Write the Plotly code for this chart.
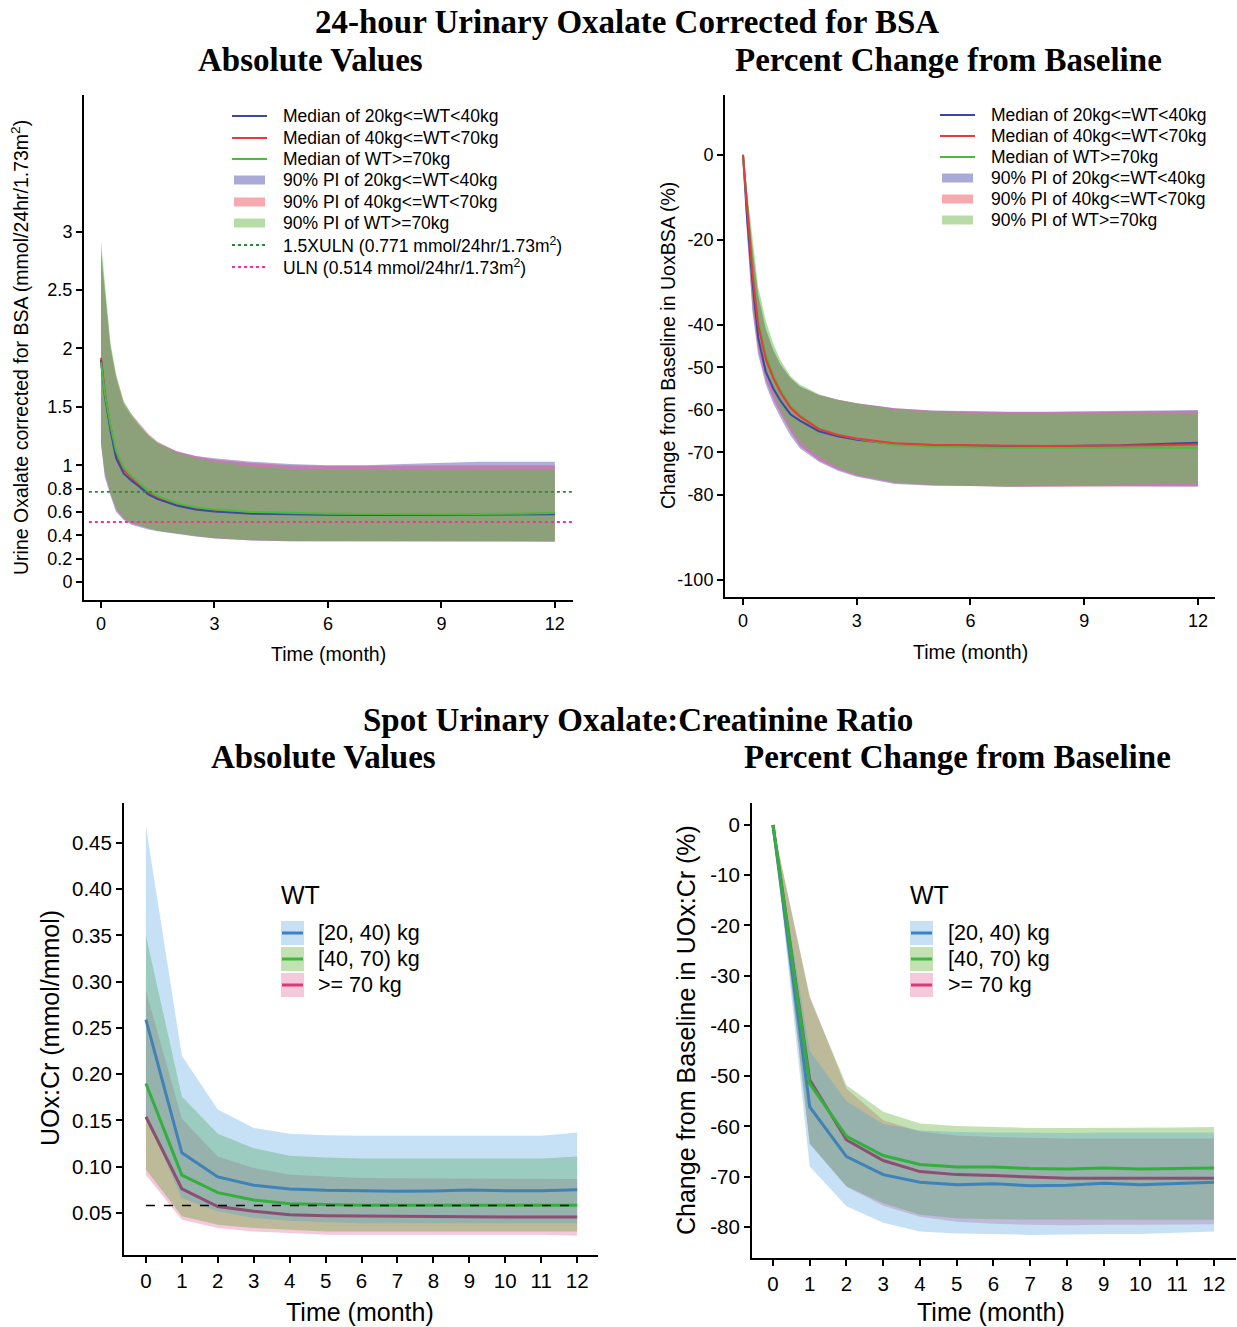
import plotly.graph_objects as go

W, H = 1237, 1327

# ---------------- DATA ----------------
# Top panels (24-hour UOx corrected for BSA)
t_top = [0, 0.1, 0.25, 0.4, 0.6, 0.8, 1, 1.25, 1.5, 2, 2.5, 3, 4, 5, 6, 7, 8, 9, 10, 11, 12]

abs_med_2040 = [1.9, 1.6, 1.3, 1.06, 0.93, 0.87, 0.82, 0.75, 0.71, 0.655, 0.62, 0.603, 0.585, 0.578, 0.575, 0.574, 0.574, 0.575, 0.576, 0.578, 0.58]
abs_med_4070 = [1.92, 1.63, 1.33, 1.1, 0.96, 0.89, 0.84, 0.77, 0.72, 0.665, 0.628, 0.61, 0.59, 0.582, 0.578, 0.577, 0.577, 0.578, 0.58, 0.583, 0.585]
abs_med_70 = [1.88, 1.62, 1.34, 1.12, 0.98, 0.91, 0.85, 0.78, 0.735, 0.675, 0.64, 0.62, 0.6, 0.59, 0.585, 0.582, 0.58, 0.58, 0.582, 0.585, 0.59]
abs_hi_2040 = [2.85, 2.5, 2.0, 1.75, 1.52, 1.42, 1.34, 1.25, 1.19, 1.12, 1.08, 1.06, 1.03, 1.01, 1.0, 1.0, 1.01, 1.02, 1.03, 1.03, 1.03]
abs_lo_2040 = [1.18, 0.9, 0.74, 0.6, 0.53, 0.49, 0.47, 0.45, 0.435, 0.41, 0.39, 0.372, 0.355, 0.35, 0.35, 0.348, 0.347, 0.347, 0.346, 0.346, 0.346]
abs_hi_4070 = [2.8, 2.5, 2.02, 1.76, 1.54, 1.44, 1.36, 1.27, 1.2, 1.12, 1.08, 1.05, 1.02, 1.0, 0.995, 0.995, 1.0, 1.0, 1.0, 1.0, 1.0]
abs_lo_4070 = [1.2, 0.93, 0.76, 0.62, 0.54, 0.5, 0.48, 0.46, 0.44, 0.415, 0.395, 0.375, 0.355, 0.35, 0.35, 0.347, 0.345, 0.345, 0.345, 0.345, 0.345]
abs_hi_70 = [2.92, 2.55, 2.05, 1.78, 1.55, 1.44, 1.35, 1.26, 1.19, 1.11, 1.06, 1.03, 0.99, 0.97, 0.96, 0.96, 0.96, 0.96, 0.96, 0.96, 0.96]
abs_lo_70 = [1.2, 0.94, 0.77, 0.63, 0.55, 0.51, 0.485, 0.46, 0.44, 0.415, 0.395, 0.378, 0.36, 0.352, 0.35, 0.35, 0.35, 0.35, 0.35, 0.35, 0.35]
uln_15x = 0.771
uln = 0.514

pct_med_2040 = [0, -14, -30, -43, -51, -55, -58, -61, -62.5, -65, -66.2, -67, -68, -68.3, -68.4, -68.5, -68.6, -68.4, -68.3, -68, -67.7]
pct_med_4070 = [0, -12, -28, -40, -48, -52.5, -56, -59.5, -61.5, -64.5, -65.9, -66.7, -67.8, -68.2, -68.3, -68.5, -68.5, -68.4, -68.4, -68.3, -68.1]
pct_med_70 = [0, -11, -27, -39, -47, -52, -55.5, -59, -61.3, -64.3, -65.8, -66.8, -68.2, -68.6, -68.8, -68.9, -68.9, -68.8, -68.8, -68.9, -68.9]
pct_hi_2040 = [0, -9, -22, -33, -41, -46, -49.5, -52.5, -54.5, -56.5, -57.6, -58.4, -59.6, -60.1, -60.3, -60.4, -60.4, -60.3, -60.2, -60.1, -60]
pct_lo_2040 = [0, -18, -37, -47, -54, -58.5, -62, -66, -69, -72.2, -74.3, -75.7, -77.4, -77.8, -77.9, -78, -78, -77.9, -77.9, -77.9, -78]
pct_hi_4070 = [0, -9, -22, -33, -41, -46, -49.5, -52.5, -54.5, -56.5, -57.6, -58.4, -59.6, -60.2, -60.4, -60.5, -60.5, -60.4, -60.3, -60.2, -60.2]
pct_lo_4070 = [0, -17, -36, -46, -53, -57.5, -61, -65, -68.5, -71.8, -74, -75.5, -77.2, -77.7, -77.9, -78.1, -78.1, -78, -78, -78, -78]
pct_hi_70 = [0, -8, -20, -31, -39, -44.5, -48.5, -52, -54, -56.3, -57.6, -58.5, -59.9, -60.5, -60.7, -60.8, -60.8, -60.8, -60.8, -60.8, -60.8]
pct_lo_70 = [0, -16, -34, -44, -51, -56, -60, -64, -67.5, -71, -73.5, -75.2, -77, -77.6, -77.8, -78, -77.8, -77.6, -77.5, -77.4, -77.3]

# Bottom panels (spot UOx:Cr)
months = [0, 1, 2, 3, 4, 5, 6, 7, 8, 9, 10, 11, 12]

cr_med_2040 = [0.259, 0.115, 0.089, 0.080, 0.076, 0.0745, 0.074, 0.0734, 0.0737, 0.0748, 0.074, 0.074, 0.075]
cr_med_4070 = [0.190, 0.091, 0.072, 0.064, 0.060, 0.059, 0.0585, 0.0583, 0.0583, 0.0583, 0.0582, 0.0583, 0.0583]
cr_med_70 = [0.154, 0.076, 0.057, 0.052, 0.048, 0.047, 0.0468, 0.0464, 0.0458, 0.0457, 0.0457, 0.0456, 0.0457]
cr_hi_2040 = [0.468, 0.220, 0.162, 0.142, 0.1356, 0.134, 0.1335, 0.1335, 0.1335, 0.1335, 0.1335, 0.1335, 0.137]
cr_lo_2040 = [0.155, 0.066, 0.052, 0.0446, 0.0417, 0.040, 0.039, 0.039, 0.039, 0.039, 0.039, 0.039, 0.039]
cr_hi_4070 = [0.350, 0.176, 0.1356, 0.120, 0.112, 0.110, 0.109, 0.109, 0.109, 0.109, 0.109, 0.109, 0.111]
cr_lo_4070 = [0.097, 0.0464, 0.0374, 0.0338, 0.032, 0.030, 0.030, 0.030, 0.030, 0.030, 0.030, 0.030, 0.030]
cr_hi_70 = [0.29, 0.152, 0.111, 0.0986, 0.0914, 0.0896, 0.0878, 0.0875, 0.0872, 0.087, 0.087, 0.087, 0.0867]
cr_lo_70 = [0.091, 0.0428, 0.0338, 0.030, 0.0284, 0.0266, 0.0266, 0.0266, 0.0266, 0.0266, 0.0266, 0.0266, 0.0255]
cr_ref = 0.058

crp_med_2040 = [0, -56.1, -66, -69.6, -71.1, -71.6, -71.4, -71.8, -71.7, -71.3, -71.6, -71.4, -71.1]
crp_med_4070 = [0, -51.5, -62, -65.8, -67.6, -68.1, -68.1, -68.4, -68.5, -68.3, -68.5, -68.4, -68.3]
crp_med_70 = [0, -50.7, -62.7, -66.8, -69, -69.6, -69.8, -70.1, -70.3, -70.3, -70.3, -70.3, -70.3]
crp_hi_2040 = [0, -45, -55, -59.5, -60.8, -61.1, -61.2, -61.3, -61.3, -61.2, -61.2, -61.2, -61.2]
crp_lo_2040 = [0, -68, -75.9, -79.2, -80.9, -81.3, -81.4, -81.6, -81.5, -81.4, -81.4, -81.2, -80.9]
crp_hi_4070 = [0, -34.4, -51.8, -57.1, -59.4, -59.9, -60.1, -60.3, -60.3, -60.3, -60.3, -60.2, -60.1]
crp_lo_4070 = [0, -63.4, -71.9, -75.3, -77.6, -78.3, -78.5, -78.6, -78.6, -78.6, -78.6, -78.6, -78.6]
crp_hi_70 = [0, -34.0, -52.5, -58.8, -61, -61.8, -62.1, -62.3, -62.4, -62.4, -62.4, -62.4, -62.4]
crp_lo_70 = [0, -63.5, -72, -75.8, -78, -79, -79.4, -79.6, -79.7, -79.6, -79.6, -79.6, -79.5]

# tick labels
abs_yticks = [0, 0.2, 0.4, 0.6, 0.8, 1, 1.5, 2, 2.5, 3]
abs_yticktext = ["0", "0.2", "0.4", "0.6", "0.8", "1", "1.5", "2", "2.5", "3"]
pct_yticks = [0, -20, -40, -50, -60, -70, -80, -100]
pct_yticktext = ["0", "-20", "-40", "-50", "-60", "-70", "-80", "-100"]
top_xticks = [0, 3, 6, 9, 12]
cr_yticks = [0.05, 0.10, 0.15, 0.20, 0.25, 0.30, 0.35, 0.40, 0.45]
crp_yticks = [0, -10, -20, -30, -40, -50, -60, -70, -80]
crp_yticktext = ["0", "-10", "-20", "-30", "-40", "-50", "-60", "-70", "-80"]

top_legend_labels = ["Median of 20kg<=WT<40kg", "Median of 40kg<=WT<70kg", "Median of WT>=70kg",
                     "90% PI of 20kg<=WT<40kg", "90% PI of 40kg<=WT<70kg", "90% PI of WT>=70kg"]
ref_legend_labels = ["1.5XULN (0.771 mmol/24hr/1.73m<sup>2</sup>)", "ULN (0.514 mmol/24hr/1.73m<sup>2</sup>)"]
wt_labels = ["[20, 40) kg", "[40, 70) kg", ">= 70 kg"]

# ---------------- STYLE ----------------
SANS = "Liberation Sans"
SERIF = "Liberation Serif"
TOP_LINE = ["#3c48a4", "#e8393b", "#4cbb3c"]
TOP_FILL = ["rgba(95,95,175,0.5)", "rgba(215,75,145,0.5)", "rgba(85,195,64,0.5)"]
TOP_SWATCH = ["#aaaad8", "#f6aab0", "#b8dca8"]
# order of drawing: pink, green, blue
BOT_FILL = {"b": "rgba(65,155,222,0.3)", "g": "rgba(55,155,0,0.3)", "p": "rgba(222,72,138,0.3)"}
BOT_SWATCH = ["#c6e1f5", "#c3e1b3", "#f5c8dc"]
BOT_LINE = ["#3f82b8", "#33b03c", "#8b4f70"]
BOT_LEG_LINE = ["#3f7fc4", "#3db93d", "#d63a78"]


def px(x):
    return x / W


def py(y):
    return 1 - y / H


fig = go.Figure()


def band(xs, hi, lo, color, n):
    fig.add_trace(go.Scatter(x=list(xs) + list(xs)[::-1], y=list(hi) + list(lo)[::-1],
                             fill="toself", fillcolor=color, line=dict(width=0), mode="lines",
                             hoverinfo="skip", showlegend=False,
                             xaxis="x" + n, yaxis="y" + n))


def line(xs, ys, color, width, n, dash="solid"):
    fig.add_trace(go.Scatter(x=xs, y=ys, mode="lines", line=dict(color=color, width=width, dash=dash),
                             showlegend=False, xaxis="x" + n, yaxis="y" + n))


# top-left
band(t_top, abs_hi_2040, abs_lo_2040, TOP_FILL[0], "")
band(t_top, abs_hi_4070, abs_lo_4070, TOP_FILL[1], "")
band(t_top, abs_hi_70, abs_lo_70, TOP_FILL[2], "")
line(t_top, abs_med_4070, TOP_LINE[1], 2, "")
line(t_top, abs_med_2040, TOP_LINE[0], 2, "")
line(t_top, abs_med_70, TOP_LINE[2], 2, "")

# top-right
band(t_top, pct_hi_2040, pct_lo_2040, TOP_FILL[0], "2")
band(t_top, pct_hi_4070, pct_lo_4070, TOP_FILL[1], "2")
band(t_top, pct_hi_70, pct_lo_70, TOP_FILL[2], "2")
line(t_top, pct_med_2040, TOP_LINE[0], 2, "2")
line(t_top, pct_med_70, TOP_LINE[2], 2, "2")
line(t_top, pct_med_4070, TOP_LINE[1], 2, "2")

# bottom-left
band(months, cr_hi_70, cr_lo_70, BOT_FILL["p"], "3")
band(months, cr_hi_4070, cr_lo_4070, BOT_FILL["g"], "3")
band(months, cr_hi_2040, cr_lo_2040, BOT_FILL["b"], "3")
line(months, cr_med_2040, BOT_LINE[0], 3, "3")
line(months, cr_med_70, BOT_LINE[2], 3, "3")
line(months, cr_med_4070, BOT_LINE[1], 3, "3")
line([months[0], months[-1]], [cr_ref, cr_ref], "black", 1.5, "3", dash="dash")

# bottom-right
band(months, crp_hi_70, crp_lo_70, BOT_FILL["p"], "4")
band(months, crp_hi_4070, crp_lo_4070, BOT_FILL["g"], "4")
band(months, crp_hi_2040, crp_lo_2040, BOT_FILL["b"], "4")
line(months, crp_med_2040, BOT_LINE[0], 3, "4")
line(months, crp_med_70, BOT_LINE[2], 3, "4")
line(months, crp_med_4070, BOT_LINE[1], 3, "4")

shapes = []
annotations = []

# reference lines top-left
shapes.append(dict(type="line", xref="x domain", x0=0.01, x1=1, yref="y", y0=uln_15x, y1=uln_15x,
                   line=dict(color="#2a8a3a", width=1.8, dash="dot")))
shapes.append(dict(type="line", xref="x domain", x0=0.01, x1=1, yref="y", y0=uln, y1=uln,
                   line=dict(color="#ff2b9a", width=1.8, dash="dot")))


def axis_common(fs):
    return dict(showline=True, linecolor="black", linewidth=2, ticks="outside", ticklen=6,
                tickwidth=1.5, tickcolor="black", showgrid=False, zeroline=False,
                tickfont=dict(family=SANS, size=fs, color="black"))


layout = dict(
    width=W, height=H, margin=dict(l=0, r=0, t=0, b=0),
    paper_bgcolor="white", plot_bgcolor="white", showlegend=False,
    xaxis=dict(domain=[px(84), px(573)], range=[-0.449, 12.48], anchor="y",
               tickvals=top_xticks, **axis_common(18)),
    yaxis=dict(domain=[py(600), py(95)], range=[-0.154, 4.17], anchor="x",
               tickvals=abs_yticks, ticktext=abs_yticktext, **axis_common(18)),
    xaxis2=dict(domain=[px(725), px(1215)], range=[-0.475, 12.45], anchor="y2",
                tickvals=top_xticks, **axis_common(18)),
    yaxis2=dict(domain=[py(597), py(95)], range=[-104.0, 14.1], anchor="x2",
                tickvals=pct_yticks, ticktext=pct_yticktext, **axis_common(18)),
    xaxis3=dict(domain=[px(124), px(598)], range=[-0.61, 12.58], anchor="y3",
                tickvals=months, **axis_common(20.5)),
    yaxis3=dict(domain=[py(1255), py(803)], range=[0.0046, 0.4932], anchor="x3",
                tickvals=cr_yticks, tickformat=".2f", **axis_common(20.5)),
    xaxis4=dict(domain=[px(752), px(1236)], range=[-0.571, 12.6], anchor="y4",
                tickvals=months, **axis_common(20.5)),
    yaxis4=dict(domain=[py(1258), py(803)], range=[-86.2, 4.38], anchor="x4",
                tickvals=crp_yticks, ticktext=crp_yticktext, **axis_common(20.5)),
)


def text(x, y, s, size, family=SANS, anchor="center", angle=0, bold=False):
    if bold:
        s = "<b>" + s + "</b>"
    annotations.append(dict(xref="paper", yref="paper", x=px(x), y=py(y), text=s, showarrow=False,
                            xanchor=anchor, yanchor="middle", textangle=angle,
                            font=dict(family=family, size=size, color="black")))


# titles
text(627, 22, "24-hour Urinary Oxalate Corrected for BSA", 33, SERIF, bold=True)
text(310, 60, "Absolute Values", 33, SERIF, bold=True)
text(948, 60, "Percent Change from Baseline", 33, SERIF, bold=True)
text(638, 720, "Spot Urinary Oxalate:Creatinine Ratio", 33, SERIF, bold=True)
text(323, 757, "Absolute Values", 33, SERIF, bold=True)
text(957, 757, "Percent Change from Baseline", 33, SERIF, bold=True)

# axis titles
text(328, 654, "Time (month)", 19.5)
text(970, 652, "Time (month)", 19.5)
text(360, 1312, "Time (month)", 25)
text(991, 1312, "Time (month)", 25)
text(20, 348, "Urine Oxalate corrected for BSA (mmol/24hr/1.73m<sup>2</sup>)", 19.5, angle=-90)
text(668, 346, "Change from Baseline in UoxBSA (%)", 19.5, angle=-90)
text(50, 1028, "UOx:Cr (mmol/mmol)", 25, angle=-90)
text(686, 1030, "Change from Baseline in UOx:Cr (%)", 25, angle=-90)


def top_legend(x0, x1, xt, rows, with_ref):
    for i in range(3):
        shapes.append(dict(type="line", xref="paper", yref="paper", x0=px(x0), x1=px(x1),
                           y0=py(rows[i]), y1=py(rows[i]), line=dict(color=TOP_LINE[i], width=2)))
        text(xt, rows[i], top_legend_labels[i], 17.5, anchor="left")
    for i in range(3):
        r = rows[3 + i]
        shapes.append(dict(type="line", xref="paper", yref="paper", x0=px(x0 + 2), x1=px(x1 - 2),
                           y0=py(r), y1=py(r), line=dict(color=TOP_SWATCH[i], width=9)))
        text(xt, r, top_legend_labels[3 + i], 17.5, anchor="left")
    if with_ref:
        cols = ["#2a8a3a", "#ff2b9a"]
        for i in range(2):
            r = rows[6 + i]
            shapes.append(dict(type="line", xref="paper", yref="paper", x0=px(x0), x1=px(x1),
                               y0=py(r), y1=py(r), line=dict(color=cols[i], width=1.8, dash="dot")))
            text(xt, r, ref_legend_labels[i], 17.5, anchor="left")


top_legend(232, 267, 281, [116, 138, 159, 180, 202, 223, 245, 267], True)
top_legend(940, 975, 989, [115, 136, 157, 178, 199, 220], False)


def wt_legend(xs, xt, title_y, rows):
    text(xs - 2, title_y, "WT", 25, anchor="left")
    for i in range(3):
        r = rows[i]
        shapes.append(dict(type="rect", xref="paper", yref="paper", x0=px(xs), x1=px(xs + 23),
                           y0=py(r + 12), y1=py(r - 12), line=dict(width=0), fillcolor=BOT_SWATCH[i]))
        shapes.append(dict(type="line", xref="paper", yref="paper", x0=px(xs + 1), x1=px(xs + 22),
                           y0=py(r), y1=py(r), line=dict(color=BOT_LEG_LINE[i], width=3)))
        text(xt, r, wt_labels[i], 21.5, anchor="left")


wt_legend(281, 316, 895, [933, 959, 985])
wt_legend(910, 946, 895, [933, 959, 985])

layout["shapes"] = shapes
layout["annotations"] = annotations
fig.update_layout(**layout)
fig.write_html("out.html")
